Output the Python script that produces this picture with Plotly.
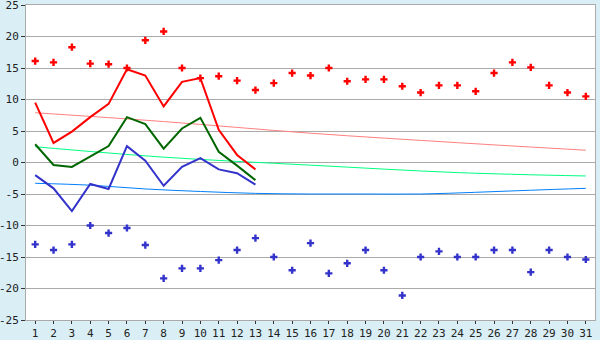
import plotly.graph_objects as go

days = list(range(1, 32))
max_temp = [16.1, 15.9, 18.3, 15.7, 15.6, 15.0, 19.4, 20.8, 15.0, 13.4,
            13.7, 13.0, 11.5, 12.6, 14.2, 13.8, 15.0, 12.9, 13.2, 13.2,
            12.1, 11.1, 12.25, 12.25, 11.3, 14.2, 15.9, 15.1, 12.25, 11.1, 10.5]
min_temp = [-13.0, -13.9, -13.0, -10.0, -11.2, -10.4, -13.1, -18.4, -16.8, -16.8,
            -15.5, -13.9, -12.0, -15.0, -17.1, -12.8, -17.6, -16.0, -13.9, -17.1,
            -21.1, -15.0, -14.1, -15.0, -15.0, -13.9, -13.9, -17.4, -13.9, -15.0, -15.4]
line_days = list(range(1, 14))
cur_max = [9.5, 3.1, 4.9, 7.2, 9.3, 14.8, 13.8, 8.9, 12.8, 13.4, 5.2, 1.2, -1.1]
cur_avg = [2.9, -0.4, -0.7, 1.0, 2.6, 7.2, 6.1, 2.2, 5.4, 7.1, 1.7, -0.5, -2.8]
cur_min = [-2.0, -4.1, -7.7, -3.4, -4.2, 2.6, 0.3, -3.7, -0.7, 0.7, -1.1, -1.7, -3.5]

trend_days = [1, 8, 16, 24, 31]
trend_max = [7.9, 6.5, 4.65, 3.15, 1.95]
trend_avg = [2.5, 0.85, -0.42, -1.6, -2.14]
trend_min_days = [1, 4, 7, 10, 13, 16, 19, 22, 25, 28, 31]
trend_min = [-3.3, -3.6, -4.2, -4.6, -4.9, -5.0, -5.0, -5.0, -4.73, -4.4, -4.1]

y_ticks = list(range(-25, 30, 5))
y_labels = [str(v) for v in y_ticks]

fig = go.Figure()
fig.add_trace(go.Scatter(x=trend_days, y=trend_max, mode="lines",
                         line=dict(color="#ff8080", width=1, shape="spline")))
fig.add_trace(go.Scatter(x=trend_days, y=trend_avg, mode="lines",
                         line=dict(color="#00ff80", width=1, shape="spline")))
fig.add_trace(go.Scatter(x=trend_min_days, y=trend_min, mode="lines",
                         line=dict(color="#0080ff", width=1, shape="spline")))
fig.add_trace(go.Scatter(x=line_days, y=cur_max, mode="lines",
                         line=dict(color="#ff0000", width=2)))
fig.add_trace(go.Scatter(x=line_days, y=cur_avg, mode="lines",
                         line=dict(color="#006600", width=2)))
fig.add_trace(go.Scatter(x=line_days, y=cur_min, mode="lines",
                         line=dict(color="#3333cc", width=2)))
fig.add_trace(go.Scatter(x=days, y=max_temp, mode="markers",
                         marker=dict(symbol="cross", size=6, color="#ff0000", line=dict(width=0))))
fig.add_trace(go.Scatter(x=days, y=min_temp, mode="markers",
                         marker=dict(symbol="cross", size=6, color="#3333cc", line=dict(width=0))))

fig.update_layout(
    width=600, height=340,
    margin=dict(l=26, r=5, t=5, b=20, autoexpand=False),
    paper_bgcolor="#daeef5",
    plot_bgcolor="#ffffff",
    showlegend=False,
    font=dict(family="DejaVu Sans Mono", size=11, color="#222222"),
)
fig.update_xaxes(range=[0.5, 31.5], tickvals=days, ticktext=[str(d) for d in days],
                 showgrid=False, zeroline=False, showline=True, linecolor="#aaaaaa",
                 linewidth=1, mirror=True, ticks="outside", ticklen=3, tickcolor="#333333",
                 tickfont=dict(size=11), automargin=False, ticklabeloverflow="allow")
fig.update_yaxes(range=[-25, 25], tickvals=y_ticks, ticktext=y_labels,
                 showgrid=True, gridcolor="#aaaaaa", gridwidth=1, zeroline=False,
                 showline=True, linecolor="#aaaaaa", linewidth=1, mirror=True,
                 ticks="outside", ticklen=4, tickcolor="#333333", tickfont=dict(size=11),
                 automargin=False, ticklabeloverflow="allow")

fig.write_html("out.html")
